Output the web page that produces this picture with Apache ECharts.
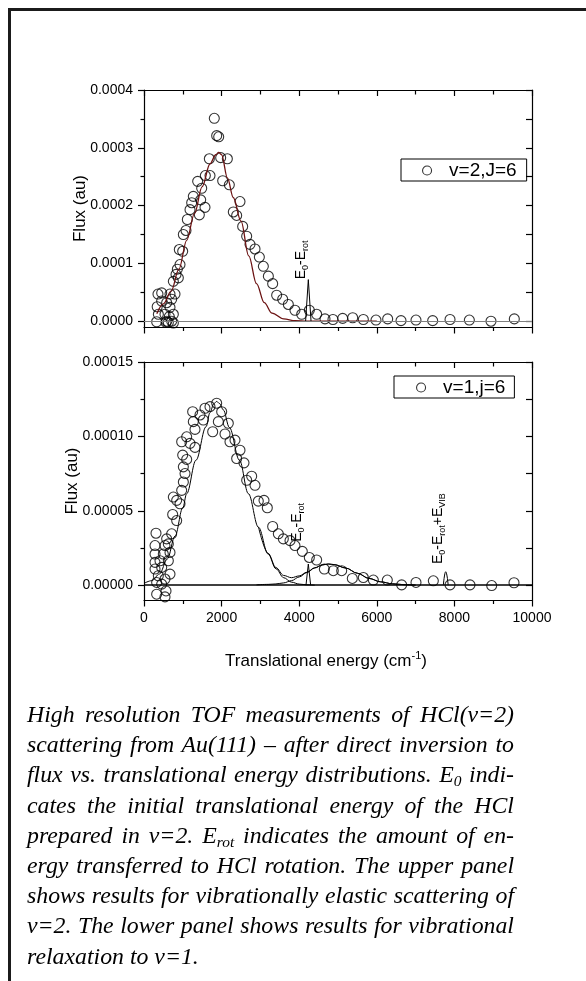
<!DOCTYPE html>
<html>
<head>
<meta charset="utf-8">
<script src="https://cdn.jsdelivr.net/npm/echarts/dist/echarts.min.js"></script>
<style>
html, body { margin: 0; padding: 0; background: #fff; }
#wrap { position: relative; width: 586px; height: 981px; overflow: hidden; }
#chart { position: absolute; left: 0; top: 0; width: 586px; height: 981px; }
#frame { position: absolute; left: 8px; top: 8px; width: 700px; height: 1100px;
  border-left: 3px solid #1b1b1b; border-top: 3px solid #1b1b1b; }
#caption { position: absolute; left: 27px; top: 699px; width: 487px;
  font-family: "Liberation Serif", "Times New Roman", serif; font-style: italic;
  font-size: 23.8px; line-height: 30.2px; color: #000; }
#caption div { text-align: justify; text-align-last: justify; white-space: nowrap; }
#caption div.last { text-align-last: left; }
#caption sub { font-size: 0.65em; vertical-align: -0.25em; line-height: 0; }
</style>
</head>
<body>
<div id="wrap">
  <div id="frame"></div>
  <div id="chart"></div>
  <div id="caption">
    <div>High resolution TOF measurements of HCl(v=2)</div>
    <div>scattering from Au(111) – after direct inversion to</div>
    <div>flux vs. translational energy distributions. E<sub>0</sub> indi-</div>
    <div>cates the initial translational energy of the HCl</div>
    <div>prepared in v=2. E<sub>rot</sub> indicates the amount of en-</div>
    <div>ergy transferred to HCl rotation. The upper panel</div>
    <div>shows results for vibrationally elastic scattering of</div>
    <div>v=2. The lower panel shows results for vibrational</div>
    <div class="last">relaxation to v=1.</div>
  </div>
</div>
<script>
// ---- v=2, J=6 (vibrationally elastic) ----
const upperName = 'v=2,J=6';
const upperEnergy = [360, 456, 340, 455, 584, 670, 370, 541, 756, 326, 584, 713, 627, 756, 670, 652, 567,
  713, 799, 756, 825, 859, 885, 928, 910, 997, 1014, 1082, 1117, 1186, 1229, 1271, 1461, 1426, 1487,
  1572, 1383, 1581, 1701, 1684, 1812, 1873, 1925, 1976, 2148, 2028, 2199, 2474, 2302, 2388, 2543,
  2646, 2732, 2861, 2973, 3076, 3205, 3316, 3419, 3574, 3720, 3891, 4064, 4261, 4450, 4665, 4870,
  5120, 5378, 5653, 5979, 6280, 6624, 7010, 7440, 7887, 8385, 8943, 9544];
const upperFlux = [0.47e-4, 0.49e-4, 0.25e-4, 0.35e-4, 0.32e-4, 0.24e-4, 0.12e-4, 0.12e-4, 0.12e-4,
  -0.01e-4, 0.00e-4, 0.00e-4, -0.02e-4, -0.03e-4, 0.47e-4, 0.08e-4, -0.02e-4,
  0.38e-4, 0.47e-4, 0.69e-4, 0.81e-4, 0.90e-4, 0.75e-4, 0.98e-4, 1.24e-4, 1.21e-4, 1.50e-4, 1.57e-4,
  1.76e-4, 1.93e-4, 2.05e-4, 2.16e-4, 2.10e-4, 1.84e-4, 2.30e-4,
  1.97e-4, 2.42e-4, 2.52e-4, 2.52e-4, 2.81e-4, 3.51e-4, 3.21e-4, 3.19e-4, 2.83e-4, 2.81e-4, 2.43e-4,
  2.36e-4, 2.07e-4, 1.89e-4, 1.83e-4, 1.64e-4,
  1.47e-4, 1.33e-4, 1.25e-4, 1.11e-4, 0.95e-4, 0.78e-4, 0.65e-4, 0.45e-4, 0.38e-4, 0.29e-4, 0.19e-4,
  0.12e-4, 0.19e-4, 0.12e-4, 0.04e-4, 0.03e-4,
  0.05e-4, 0.06e-4, 0.03e-4, 0.02e-4, 0.04e-4, 0.01e-4, 0.02e-4, 0.01e-4, 0.03e-4, 0.02e-4, 0.00e-4, 0.04e-4];
// fitted distribution
const upperFitEnergy = [330, 500, 700, 900, 1100, 1300, 1500, 1700, 1850, 1925, 2000, 2150, 2300, 2500,
  2700, 2900, 3100, 3300, 3600, 3900, 4200, 4600, 5000, 5500, 6000];
const upperFitFlux = [0.13e-4, 0.30e-4, 0.52e-4, 0.90e-4, 1.40e-4, 1.86e-4, 2.33e-4, 2.72e-4, 2.88e-4,
  2.92e-4, 2.88e-4, 2.48e-4, 2.14e-4, 1.73e-4, 1.13e-4, 0.65e-4, 0.32e-4, 0.14e-4, 0.04e-4, 0.01e-4,
  0, 0, 0, 0, 0];
// E0 - Erot marker
const upperMarkEnergy = [4165, 4235, 4305];
const upperMarkFlux = [0, 0.72e-4, 0];

// ---- v=1, j=6 (vibrational relaxation) ----
const lowerName = 'v=1,j=6';
const lowerEnergy = [1873, 1701, 1572, 2002, 1254, 1443, 1271, 1529, 1916, 2173, 1314, 1770, 2088, 1100,
  971, 1186, 2216, 2345, 1314, 997, 1100, 2474, 2388, 2577, 1014, 1057, 2646, 2775, 2861, 1014, 971, 756,
  842, 928, 739, 842, 2946, 3093, 3178, 3316, 3462, 3591, 3763, 3891, 4080, 4261, 4450, 4648, 4879, 5095,
  5369, 5653, 5911, 6271, 6641, 7010, 7457, 7887, 8402, 8961, 9536,
  309, 284, 284, 584, 713, 627, 541, 498, 670, 284, 412, 627, 284, 456, 670, 369, 541, 326, 456, 567, 326, 541];
const lowerFlux = [12.23e-5, 12.0e-5, 11.89e-5, 11.66e-5, 11.66e-5, 11.44e-5, 10.99e-5, 11.1e-5, 10.99e-5,
  10.88e-5, 10.47e-5, 10.31e-5, 10.16e-5, 9.97e-5,
  9.64e-5, 9.53e-5, 9.64e-5, 9.75e-5, 9.26e-5, 8.74e-5, 8.45e-5, 9.07e-5, 8.51e-5, 8.22e-5, 7.95e-5, 7.5e-5,
  7.05e-5, 7.32e-5, 6.71e-5, 6.93e-5, 6.37e-5, 5.92e-5,
  5.70e-5, 5.47e-5, 4.75e-5, 4.34e-5, 5.65e-5, 5.7e-5, 5.2e-5, 3.94e-5, 3.45e-5, 3.11e-5, 2.99e-5, 2.66e-5,
  2.27e-5, 1.86e-5, 1.69e-5, 1.08e-5, 0.97e-5, 0.97e-5,
  0.45e-5, 0.51e-5, 0.34e-5, 0.34e-5, 0.02e-5, 0.18e-5, 0.29e-5, 0.02e-5, 0.02e-5, -0.03e-5, 0.16e-5,
  3.49e-5, 2.66e-5, 2.09e-5, 3.11e-5, 3.45e-5, 2.77e-5, 2.66e-5, 2.09e-5, 2.2e-5, 1.53e-5, 1.64e-5, 1.64e-5,
  1.08e-5, 1.19e-5, 0.74e-5, 0.63e-5, 0.41e-5, 0.18e-5, 0.07e-5, -0.39e-5, -0.61e-5, -0.79e-5];
// fitted components and their sum
const lowerMainEnergy = [0, 200, 400, 600, 800, 1000, 1100, 1340, 1600, 1700, 1800, 1873, 1950, 2045, 2200,
  2460, 2690, 2950, 3200, 3400, 3600, 3800, 4000, 4200, 4400];
const lowerMainFlux = [0.12e-5, 0.3e-5, 0.75e-5, 1.75e-5, 3.3e-5, 5.2e-5, 6.15e-5, 8.4e-5, 10.65e-5, 11.6e-5,
  12.2e-5, 12.35e-5, 12.2e-5, 11.78e-5, 10.6e-5, 8.4e-5, 6.15e-5, 3.89e-5, 2.09e-5, 1.1e-5, 0.5e-5, 0.2e-5,
  0.07e-5, 0.02e-5, 0];
const lowerSecondEnergy = [2900, 3200, 3400, 3600, 3800, 4000, 4200, 4400, 4600, 4750, 4900, 5200, 5500, 5800,
  6100, 6400, 6700, 7000];
const lowerSecondFlux = [0.02e-5, 0.05e-5, 0.08e-5, 0.15e-5, 0.3e-5, 0.55e-5, 0.85e-5, 1.15e-5, 1.36e-5,
  1.42e-5, 1.38e-5, 1.15e-5, 0.8e-5, 0.45e-5, 0.22e-5, 0.09e-5, 0.03e-5, 0];
const lowerSumEnergy = [2950, 3200, 3400, 3600, 3800, 4000, 4200, 4400, 4600, 4750, 4900, 5200, 5500, 5800,
  6100, 6400, 6700, 7000];
const lowerSumFlux = [3.91e-5, 2.14e-5, 1.18e-5, 0.65e-5, 0.5e-5, 0.62e-5, 0.87e-5, 1.17e-5, 1.36e-5, 1.42e-5,
  1.38e-5, 1.15e-5, 0.8e-5, 0.45e-5, 0.22e-5, 0.09e-5, 0.03e-5, 0];
// E0 - Erot and E0 - Erot + Evib markers
const lowerMarkEnergy = [4175, 4235, 4295];
const lowerMarkFlux = [0, 1.42e-5, 0];
const lowerVibEnergy = [7715, 7776, 7840];
const lowerVibFlux = [0, 0.9e-5, 0];

// axis ticks
const upperYLabels = [0, 0.0001, 0.0002, 0.0003, 0.0004];
const upperYMinor = [0.00005, 0.00015, 0.00025, 0.00035];
const upperYRight = [0, 0.00005, 0.0001, 0.00015, 0.0002, 0.00025, 0.0003, 0.00035, 0.0004];
const lowerYLabels = [0, 0.00005, 0.0001, 0.00015];
const lowerYMinor = [0.000025, 0.000075, 0.000125];
const lowerYRight = [0, 0.000025, 0.00005, 0.000075, 0.0001, 0.000125, 0.00015];

const zip = (xs, ys) => xs.map((x, i) => [x, ys[i]]);
const FONT = 'Liberation Sans';
const black = '#000';

function bottomAxis(gridIndex, withLabels) {
  return {
    type: 'value', gridIndex, position: 'bottom', min: 0, max: 10000, interval: 2000,
    axisLine: { show: true, onZero: false, lineStyle: { color: black, width: 1.2 } },
    axisTick: { show: true, inside: false, length: 6.5, lineStyle: { color: black, width: 1.2 } },
    minorTick: { show: true, splitNumber: 2, length: 4, lineStyle: { color: black, width: 1.2 } },
    axisLabel: { show: withLabels, margin: 11, fontSize: 14, color: black, fontFamily: FONT,
      formatter: v => String(v) },
    splitLine: { show: false }, minorSplitLine: { show: false },
    name: withLabels ? '{t|Translational energy (cm}{s|-1}{t|)}' : '',
    nameLocation: 'middle', nameGap: 50, nameMoveOverlap: false,
    nameTextStyle: {
      padding: [0, 24, 0, 0],
      rich: {
        t: { fontSize: 17, fontFamily: FONT, color: black, lineHeight: 20, verticalAlign: 'bottom' },
        s: { fontSize: 11, fontFamily: FONT, color: black, lineHeight: 11, verticalAlign: 'top' }
      }
    }
  };
}
function topAxis(gridIndex) {
  return {
    type: 'value', gridIndex, position: 'top', min: 0, max: 10000, interval: 2000,
    axisLine: { show: true, onZero: false, lineStyle: { color: black, width: 1.2 } },
    axisTick: { show: true, inside: true, length: 6, lineStyle: { color: black, width: 1.2 } },
    minorTick: { show: true, splitNumber: 2, length: 4.5, lineStyle: { color: black, width: 1.2 } },
    axisLabel: { show: false }, splitLine: { show: false }, minorSplitLine: { show: false }
  };
}
function leftAxis(gridIndex, min, max, labels, digits, gap) {
  return {
    type: 'value', gridIndex, position: 'left', min, max,
    axisLine: { show: true, onZero: false, lineStyle: { color: black, width: 1.2 } },
    axisTick: { show: true, inside: false, length: 6, customValues: labels, lineStyle: { color: black, width: 1.2 } },
    axisLabel: { show: true, customValues: labels, margin: 11, fontSize: 14, color: black, fontFamily: FONT,
      formatter: v => v.toFixed(digits) },
    splitLine: { show: false },
    name: 'Flux (au)', nameLocation: 'middle', nameGap: gap, nameMoveOverlap: false,
    nameTextStyle: { fontSize: 17, fontFamily: FONT, color: black }
  };
}
function minorLeftAxis(gridIndex, min, max, ticks) {
  return {
    type: 'value', gridIndex, position: 'left', min, max,
    axisLine: { show: false, onZero: false },
    axisTick: { show: true, inside: false, length: 3.5, customValues: ticks, lineStyle: { color: black, width: 1.2 } },
    axisLabel: { show: false, customValues: ticks }, splitLine: { show: false }
  };
}
function rightAxis(gridIndex, min, max, ticks) {
  return {
    type: 'value', gridIndex, position: 'right', min, max,
    axisLine: { show: true, onZero: false, lineStyle: { color: black, width: 1.2 } },
    axisTick: { show: true, inside: true, length: 6, customValues: ticks, lineStyle: { color: black, width: 1.2 } },
    axisLabel: { show: false, customValues: ticks }, splitLine: { show: false }
  };
}

const hollow = { color: 'rgba(0,0,0,0)', borderColor: black, borderWidth: 1.1 };
const subRich = {
  b: { fontSize: 14, fontFamily: FONT, color: black, lineHeight: 14, verticalAlign: 'top' },
  s: { fontSize: 9, fontFamily: FONT, color: black, lineHeight: 9, verticalAlign: 'top', padding: [7, 0, 0, 0] }
};
function textMark(coord, text) {
  return {
    symbol: 'circle', symbolSize: 0, silent: true,
    data: [{ coord, value: 0 }],
    label: { show: true, position: 'inside', rotate: 90, formatter: text, rich: subRich }
  };
}
function lineSeries(x, y, xs, ys, color, width, extra) {
  return Object.assign({
    type: 'line', xAxisIndex: x, yAxisIndex: y, data: zip(xs, ys),
    showSymbol: false, symbol: 'none', smooth: 0.35, smoothMonotone: 'x',
    lineStyle: { color, width }, z: 4, silent: true
  }, extra || {});
}
function legendBox(name, left, top, padding) {
  return {
    data: [name], left, top, orient: 'horizontal',
    borderColor: black, borderWidth: 1, borderRadius: 0, padding,
    itemWidth: 34, itemHeight: 9, icon: 'circle', itemStyle: hollow,
    textStyle: { fontSize: 19, fontFamily: FONT, color: black, lineHeight: 19 }
  };
}

const chart = echarts.init(document.getElementById('chart'), null, { renderer: 'canvas' });
chart.setOption({
  animation: false,
  backgroundColor: 'transparent',
  grid: [
    { left: 144, top: 90, width: 388, height: 237 },
    { left: 144, top: 362, width: 388, height: 238 }
  ],
  legend: [
    legendBox(upperName, 401, 159, [2, 10, 1, 21]),
    legendBox(lowerName, 394, 376, [2, 9, 1, 22])
  ],
  xAxis: [bottomAxis(0, false), topAxis(0), bottomAxis(1, true), topAxis(1)],
  yAxis: [
    leftAxis(0, -0.00001, 0.0004, upperYLabels, 4, 55),
    minorLeftAxis(0, -0.00001, 0.0004, upperYMinor),
    rightAxis(0, -0.00001, 0.0004, upperYRight),
    leftAxis(1, -0.00001, 0.00015, lowerYLabels, 5, 63),
    minorLeftAxis(1, -0.00001, 0.00015, lowerYMinor),
    rightAxis(1, -0.00001, 0.00015, lowerYRight)
  ],
  series: [
    { name: upperName, type: 'scatter', xAxisIndex: 0, yAxisIndex: 0,
      data: zip(upperEnergy, upperFlux), symbol: 'circle', symbolSize: 10, itemStyle: hollow, z: 3,
      markLine: { silent: true, symbol: 'none', label: { show: false },
        lineStyle: { color: '#7f7f7f', width: 1, type: 'solid' }, data: [{ yAxis: 0 }] } },
    lineSeries(0, 0, upperFitEnergy, upperFitFlux, '#6b1212', 1.3),
    lineSeries(0, 0, upperMarkEnergy, upperMarkFlux, black, 1, { smooth: false,
      markPoint: textMark([4046, 1.06e-4], '{b|E}{s|0}{b|-E}{s|rot}') }),

    { name: lowerName, type: 'scatter', xAxisIndex: 2, yAxisIndex: 3,
      data: zip(lowerEnergy, lowerFlux), symbol: 'circle', symbolSize: 10, itemStyle: hollow, z: 3,
      markLine: { silent: true, symbol: 'none', label: { show: false },
        lineStyle: { color: black, width: 1.5, type: 'solid' }, data: [{ yAxis: 0 }] } },
    lineSeries(2, 3, lowerMainEnergy, lowerMainFlux, black, 1),
    lineSeries(2, 3, lowerSecondEnergy, lowerSecondFlux, black, 1),
    lineSeries(2, 3, lowerSumEnergy, lowerSumFlux, black, 1),
    lineSeries(2, 3, lowerMarkEnergy, lowerMarkFlux, black, 1, { smooth: false,
      markPoint: textMark([3935, 4.22e-5], '{b|E}{s|0}{b|-E}{s|rot}') }),
    lineSeries(2, 3, lowerVibEnergy, lowerVibFlux, black, 1, { smooth: 0.5,
      markPoint: textMark([7577, 3.8e-5], '{b|E}{s|0}{b|-E}{s|rot}{b|+E}{s|VIB}') })
  ]
});
</script>
</body>
</html>
